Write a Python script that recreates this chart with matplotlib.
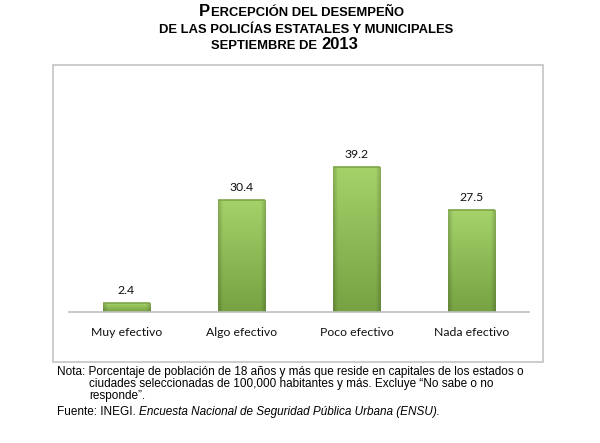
import numpy as np
import matplotlib
matplotlib.use("Agg")
import matplotlib.pyplot as plt

categorias = ["Muy efectivo", "Algo efectivo", "Poco efectivo", "Nada efectivo"]
valores = [2.4, 30.4, 39.2, 27.5]
etiquetas = ["2.4", "30.4", "39.2", "27.5"]

titulo = [
    [("P", 12), ("ERCEPCIÓN DEL DESEMPEÑO", 9.4)],
    [("DE LAS POLICÍAS ESTATALES Y MUNICIPALES", 9.4)],
    [("SEPTIEMBRE DE ", 9.4), ("2013", 12)],
]
nota = [
    "Nota: Porcentaje de población de 18 años y más que reside en capitales de los estados o",
    "ciudades seleccionadas de 100,000 habitantes y más. Excluye \u201cNo sabe o no",
    "responde\u201d.",
]
fuente_txt = "Fuente: INEGI. "
fuente_it = "Encuesta Nacional de Seguridad Pública Urbana (ENSU)."

W, H = 600, 443
fig = plt.figure(figsize=(6, 4.43), dpi=100)

def fx(px):
    return px / W

def fy(py):
    return 1 - py / H

# marco del gráfico
marco = plt.Rectangle((fx(53), fy(362)), fx(543) - fx(53), fy(65) - fy(362),
                      transform=fig.transFigure, fill=False, ec="#c8c8c8", lw=1.3)
fig.patches.append(marco)

ax = fig.add_axes([fx(69), fy(312), fx(529) - fx(69), fy(90) - fy(312)])
ax.set_xlim(-0.5, len(categorias) - 0.5)
ax.set_ylim(0, 60)
x = np.arange(len(categorias))
bars = ax.bar(x, valores, width=0.41, color="#8fbf55", edgecolor="#6f9440", lw=0.6, zorder=2)

# degradado para imitar el bisel
ny, nx = 100, 60
yy = np.linspace(0, 1, ny)[:, None]
xx = np.linspace(0, 1, nx)[None, :]
top = np.array([165, 210, 105]) / 255
bot = np.array([118, 162, 66]) / 255
base = top * (1 - yy[..., None]) + bot * yy[..., None]
base = np.broadcast_to(base, (ny, nx, 3)).copy()
edge = np.minimum(xx, 1 - xx)
shade = np.clip(edge / 0.1, 0, 1)
shade = 0.82 + 0.18 * shade
base = base * shade[..., None]
for b in bars:
    x0, y0 = b.get_x(), b.get_y()
    w, h = b.get_width(), b.get_height()
    im = ax.imshow(base, extent=[x0, x0 + w, y0, y0 + h], aspect="auto",
                   interpolation="bilinear", zorder=2)
    im.set_clip_path(b)
    # borde superior más oscuro
    ax.plot([x0, x0 + w], [y0 + h, y0 + h], color="#7ea548", lw=1.2, zorder=3,
            solid_capstyle="butt")

for xi, v, t in zip(x, valores, etiquetas):
    ax.annotate(t, (xi, v), xytext=(0, 5), textcoords="offset points",
                ha="center", va="bottom", fontsize=8.8, family="Lato", color="#111111")

for s in ["top", "right", "left"]:
    ax.spines[s].set_visible(False)
ax.spines["bottom"].set_color("#bfbfbf")
ax.spines["bottom"].set_linewidth(1.2)
ax.set_yticks([])
ax.set_xticks(x)
ax.set_xticklabels(categorias, fontsize=8.8, family="Lato", color="#111111")
ax.tick_params(axis="x", length=0, pad=11)
ax.patch.set_alpha(0)

# título con versalitas
fig.canvas.draw()
rend = fig.canvas.get_renderer()
centros = [(301, 16), (306, 33), (284, 49)]
for linea, (cx, cy) in zip(titulo, centros):
    piezas = []
    total = 0
    for txt, size in linea:
        t = fig.text(0, fy(cy), txt, fontsize=size, fontweight="bold",
                     family="Liberation Sans", va="baseline", ha="left")
        wpx = t.get_window_extent(rend).width
        piezas.append((t, wpx))
        total += wpx
    xpos = cx - total / 2
    for t, wpx in piezas:
        t.set_x(fx(xpos))
        xpos += wpx + 0.5

# nota al pie
fs = 8.5
fig.text(fx(57), fy(375), nota[0], fontsize=fs, family="Liberation Sans", va="baseline")
fig.text(fx(89), fy(387), nota[1], fontsize=fs, family="Liberation Sans", va="baseline")
fig.text(fx(89), fy(399), nota[2], fontsize=fs, family="Liberation Sans", va="baseline")
t1 = fig.text(fx(57), fy(415), fuente_txt, fontsize=fs, family="Liberation Sans", va="baseline")
w1 = t1.get_window_extent(rend).width
fig.text(fx(57 + w1), fy(415), fuente_it, fontsize=fs, family="Liberation Sans",
         style="italic", va="baseline")

fig.savefig("out.png", dpi=100)
